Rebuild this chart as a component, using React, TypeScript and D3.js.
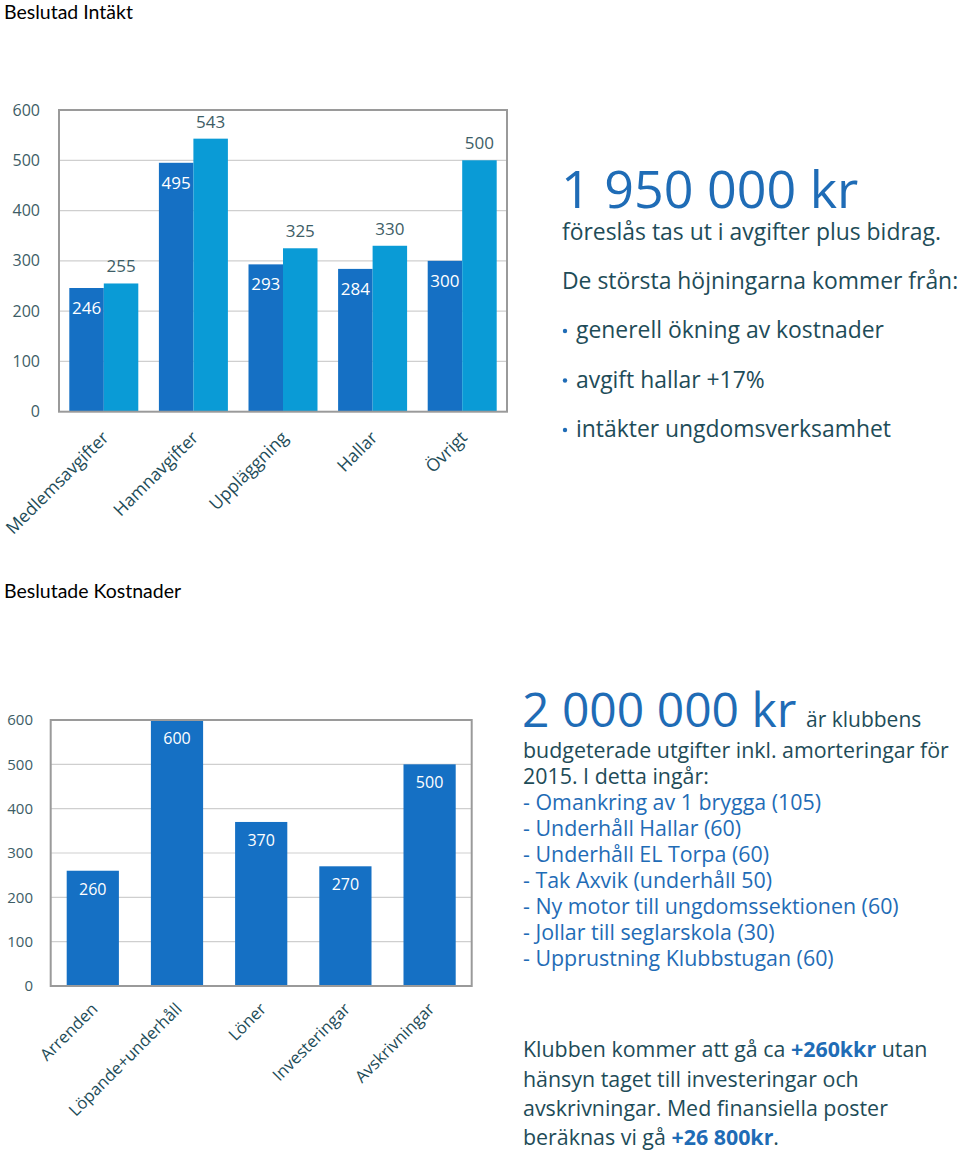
import React from "react";
import * as d3 from "d3";

const categories1 = ["Medlemsavgifter", "Hamnavgifter", "Uppläggning", "Hallar", "Övrigt"];
const previous1 = [246, 495, 293, 284, 300];
const decided1 = [255, 543, 325, 330, 500];
const categories2 = ["Arrenden", "Löpande+underhåll", "Löner", "Investeringar", "Avskrivningar"];
const costs2 = [260, 600, 370, 270, 500];
const yTicks = [0, 100, 200, 300, 400, 500, 600];

const DARK = "#1570c4";
const LIGHT = "#0a9bd6";
const TEAL = "#1e4c58";
const BLUE = "#1f6cb6";
const AXIS = "#3d5d66";
const FONT = "'Open Sans', sans-serif";

function Chart1() {
  const x0 = 59, x1 = 507, yTop = 110, yBot = 411.7;
  const y = d3.scaleLinear().domain([0, 600]).range([yBot, yTop]);
  const xb = d3.scaleBand<string>().domain(categories1).range([x0, x1]).paddingInner(0.23).paddingOuter(0.115);
  const xs = d3.scaleBand<string>().domain(["a", "b"]).range([0, xb.bandwidth()]);
  return (
    <g fontFamily={FONT}>
      {yTicks.map((t) => (
        <g key={t}>
          {t > 0 && t < 600 && <line x1={x0} x2={x1} y1={y(t)} y2={y(t)} stroke="#cfcfcf" strokeWidth={1.2} />}
          <text x={40} y={y(t)} dy="0.35em" textAnchor="end" fontSize={16} fill={AXIS}>{t}</text>
        </g>
      ))}
      {categories1.map((c, i) => {
        const gx = xb(c)!;
        const xa = gx + xs("a")!;
        const xl = gx + xs("b")!;
        const w = xs.bandwidth();
        return (
          <g key={c}>
            <rect x={xa} y={y(previous1[i])} width={w} height={yBot - y(previous1[i])} fill={DARK} />
            <rect x={xl} y={y(decided1[i])} width={w} height={yBot - y(decided1[i])} fill={LIGHT} />
            <text x={xa + w / 2} y={y(previous1[i]) + 26} textAnchor="middle" fontSize={17} fill="#fff">{previous1[i]}</text>
            <text x={xl + w / 2} y={y(decided1[i]) - 11} textAnchor="middle" fontSize={17} fill={AXIS}>{decided1[i]}</text>
            <text transform={`translate(${gx + xb.bandwidth() / 2 + 6},${yBot + 27}) rotate(-45)`} textAnchor="end" fontSize={17.5} fill={TEAL}>{c}</text>
          </g>
        );
      })}
      <rect x={x0} y={yTop} width={x1 - x0} height={yBot - yTop} fill="none" stroke="#9a9a9a" strokeWidth={2} />
    </g>
  );
}

function Chart2() {
  const x0 = 50.7, x1 = 471.7, yTop = 720, yBot = 986;
  const y = d3.scaleLinear().domain([0, 600]).range([yBot, yTop]);
  const xb = d3.scaleBand<string>().domain(categories2).range([x0, x1]).paddingInner(0.38).paddingOuter(0.19);
  return (
    <g fontFamily={FONT}>
      {yTicks.map((t) => (
        <g key={t}>
          {t > 0 && t < 600 && <line x1={x0} x2={x1} y1={y(t)} y2={y(t)} stroke="#cfcfcf" strokeWidth={1.2} />}
          <text x={33} y={y(t)} dy="0.35em" textAnchor="end" fontSize={15} fill={AXIS}>{t}</text>
        </g>
      ))}
      {categories2.map((c, i) => {
        const bx = xb(c)!;
        const w = xb.bandwidth();
        return (
          <g key={c}>
            <rect x={bx} y={y(costs2[i])} width={w} height={yBot - y(costs2[i])} fill={DARK} />
            <text x={bx + w / 2} y={y(costs2[i]) + 24} textAnchor="middle" fontSize={16} fill="#fff">{costs2[i]}</text>
            <text transform={`translate(${bx + w / 2 + 6},${yBot + 24}) rotate(-45)`} textAnchor="end" fontSize={16.6} fill={TEAL}>{c}</text>
          </g>
        );
      })}
      <rect x={x0} y={yTop} width={x1 - x0} height={yBot - yTop} fill="none" stroke="#9a9a9a" strokeWidth={2} />
    </g>
  );
}

const bullets1 = ["generell ökning av kostnader", "avgift hallar +17%", "intäkter ungdomsverksamhet"];
const list2 = [
  "- Omankring av 1 brygga (105)",
  "- Underhåll Hallar (60)",
  "- Underhåll EL Torpa (60)",
  "- Tak Axvik (underhåll 50)",
  "- Ny motor till ungdomssektionen (60)",
  "- Jollar till seglarskola (30)",
  "- Upprustning Klubbstugan (60)",
];

function Texts() {
  return (
    <g fontFamily={FONT}>
      <text x={561} y={208} fontSize={52} fill={BLUE}>1 950 000 kr</text>
      <text x={562} y={240} fontSize={22.9} fill={TEAL}>föreslås tas ut i avgifter plus bidrag.</text>
      <text x={562} y={289} fontSize={22.9} fill={TEAL}>De största höjningarna kommer från:</text>
      {bullets1.map((b, i) => (
        <g key={b}>
          <circle cx={565} cy={331 + i * 49.5} r={2.2} fill={BLUE} />
          <text x={576} y={338 + i * 49.5} fontSize={22.9} fill={TEAL}>{b}</text>
        </g>
      ))}
      <text x={522} y={727} fontSize={48} fill={BLUE}>2 000 000 kr</text>
      <text x={806} y={727} fontSize={21} fill={TEAL}>är klubbens</text>
      <text x={523} y={758} fontSize={21.4} fill={TEAL}>budgeterade utgifter inkl. amorteringar för</text>
      <text x={523} y={784} fontSize={21.4} fill={TEAL}>2015. I detta ingår:</text>
      {list2.map((s, i) => (
        <text key={s} x={523} y={810 + i * 26} fontSize={21.4} fill={BLUE}>{s}</text>
      ))}
      <text x={523} y={1057} fontSize={21.4} fill={TEAL}>Klubben kommer att gå ca <tspan fontWeight="bold" fill={BLUE}>+260kkr</tspan> utan</text>
      <text x={523} y={1087} fontSize={21.4} fill={TEAL}>hänsyn taget till investeringar och</text>
      <text x={523} y={1116} fontSize={21.4} fill={TEAL}>avskrivningar. Med finansiella poster</text>
      <text x={523} y={1145} fontSize={21.4} fill={TEAL}>beräknas vi gå <tspan fontWeight="bold" fill={BLUE}>+26 800kr</tspan>.</text>
    </g>
  );
}

export default function App() {
  return (
    <svg width={960} height={1157} style={{ position: "absolute", left: 0, top: 0, background: "#fff" }}>
      <rect width={960} height={1157} fill="#fff" />
      <text x={4} y={19} fontFamily="Lato, 'Liberation Sans', sans-serif" fontSize={19.5} fill="#000">Beslutad Intäkt</text>
      <text x={4} y={598} fontFamily="Lato, 'Liberation Sans', sans-serif" fontSize={19.5} fill="#000">Beslutade Kostnader</text>
      <Chart1 />
      <Chart2 />
      <Texts />
    </svg>
  );
}
